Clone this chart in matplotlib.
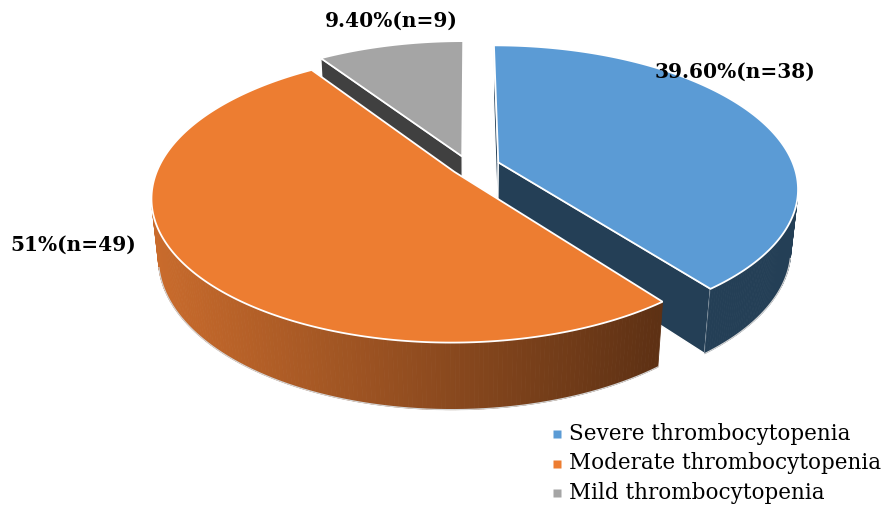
import matplotlib
matplotlib.use('Agg')
import matplotlib.pyplot as plt
from matplotlib.patches import Polygon
from matplotlib.colors import to_rgb
import numpy as np

# thrombocytopenia grades
categories = ['Severe thrombocytopenia', 'Moderate thrombocytopenia', 'Mild thrombocytopenia']
percents = [39.6, 51.0, 9.4]
counts = [38, 49, 9]
pct_labels = ['39.60%', '51%', '9.40%']

top_colors = ['#5b9bd5', '#ed7d31', '#a5a5a5']
# side shading: colour at the left end and at the right end of the rim
side_colors = [('#243f56', '#243f56'), ('#c96b2c', '#5e3114'), ('#404040', '#404040')]
explode = [0.105, 0.06, 0.08]
label_pos = [(735, 72), (73, 245), (391, 21)]

# 3d view settings (pie radius = 1)
phi = np.radians(28)
dist = 5.05
cx, cy, scale = 469, 167, 296
depth = 0.23

cam = np.array([0, -dist * np.cos(phi), dist * np.sin(phi)])
fwd = np.array([0, np.cos(phi), -np.sin(phi)])
upv = np.array([0, np.sin(phi), np.cos(phi)])


def project(pts):
    p = np.atleast_2d(pts) - cam
    d = p @ fwd
    sx = cx + scale * dist * p[:, 0] / d
    sy = cy - scale * dist * (p @ upv) / d
    return np.column_stack([sx, sy])


def mix(c1, c2, t):
    a, b = np.array(to_rgb(c1)), np.array(to_rgb(c2))
    return tuple(a + (b - a) * t)


fig = plt.figure(figsize=(8.85, 5.07), dpi=100)
ax = fig.add_axes([0, 0, 1, 1])
ax.set_xlim(0, 885)
ax.set_ylim(507, 0)
ax.axis('off')

sides = []   # (distance, polygon, colour, kind)
tops = []
rims = []
start = 90.0
for i, pct in enumerate(percents):
    a0 = start
    a1 = start - pct * 3.6
    start = a1
    mid = np.radians((a0 + a1) / 2)
    off = explode[i] * np.array([np.cos(mid), np.sin(mid), 0])
    t = np.radians(np.linspace(a0, a1, 240))
    rim = np.column_stack([np.cos(t), np.sin(t), np.zeros_like(t)]) + off
    low = rim - np.array([0, 0, depth])
    centre = off
    tops.append((np.vstack([centre, rim]), top_colors[i]))

    # curved outer wall, strip by strip
    scr = project(rim)
    x_lo, x_hi = 155, 660
    seen = []
    for k in range(len(t) - 1):
        pc = (rim[k] + rim[k + 1]) / 2 - np.array([0, 0, depth / 2])
        normal = np.array([np.cos((t[k] + t[k + 1]) / 2), np.sin((t[k] + t[k + 1]) / 2), 0])
        if normal @ (cam - pc) <= 0:
            continue
        seen.append(k)
        quad = np.array([rim[k], rim[k + 1], low[k + 1], low[k]])
        xs = np.clip((scr[k, 0] - x_lo) / (x_hi - x_lo), 0, 1)
        col = mix(side_colors[i][0], side_colors[i][1], xs)
        sides.append((np.linalg.norm(pc - cam), project(quad), col, 'strip'))
    if seen:
        idx = np.arange(seen[0], seen[-1] + 2)
        rims.append(project(low[idx]))

    # flat radial walls
    for ang, sgn in ((a0, 1), (a1, -1)):
        r = np.radians(ang)
        edge = np.array([np.cos(r), np.sin(r), 0]) + off
        normal = np.array([np.cos(r + sgn * np.pi / 2), np.sin(r + sgn * np.pi / 2), 0])
        quad = np.array([centre, edge, edge - [0, 0, depth], centre - [0, 0, depth]])
        pc = quad.mean(axis=0)
        if normal @ (cam - pc) <= 0:
            continue
        sides.append((np.linalg.norm(pc - cam), project(quad), side_colors[i][1], 'wall'))

sides.sort(key=lambda s: -s[0])
for _, poly, col, kind in sides:
    if kind == 'strip':
        ax.add_patch(Polygon(poly, closed=True, facecolor=col, edgecolor=col, lw=0.6))
    else:
        ax.add_patch(Polygon(poly, closed=True, facecolor=col, edgecolor='white', lw=1.0))

# faint outline along the bottom of each wall
for line in rims:
    ax.plot(line[:, 0], line[:, 1], color='#d4d4d4', lw=0.9)

for pts, col in tops:
    ax.add_patch(Polygon(project(pts), closed=True, facecolor=col, edgecolor='white', lw=1.3))

for i in range(len(percents)):
    x, y = label_pos[i]
    ax.text(x, y, f'{pct_labels[i]}(n={counts[i]})', ha='center', va='center',
            family='DejaVu Serif', fontweight='bold', fontsize=14.5, color='black')

# legend
for i, name in enumerate(categories):
    y = 434 + i * 29.5
    ax.plot(557, y, marker='s', ms=5.5, color=top_colors[i], mec='none')
    ax.text(569, y, name, ha='left', va='center', family='DejaVu Serif',
            fontsize=15.5, color='black')

fig.savefig('out.png', dpi=100)
